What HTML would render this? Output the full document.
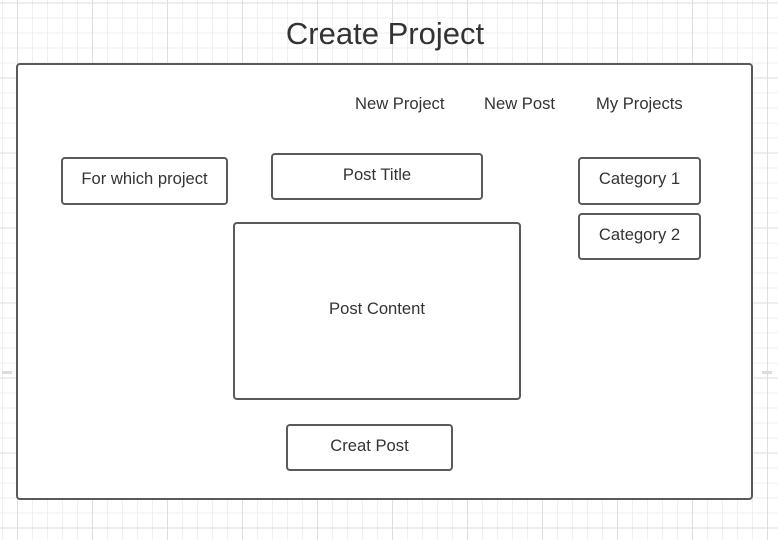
<!DOCTYPE html>
<html><head><style>
body{margin:0;width:778px;height:540px;overflow:hidden;background:#fff;font-family:"Liberation Sans",sans-serif;}
.grid{position:absolute;left:0;top:0;width:778px;height:540px;
background-image:
linear-gradient(#dedede 1px,transparent 1px),
linear-gradient(90deg,#dedede 1px,transparent 1px),
linear-gradient(#efefef 1px,transparent 1px),
linear-gradient(90deg,#efefef 1px,transparent 1px);
background-size:75px 75px,75px 75px,15px 15px,15px 15px;
background-position:0 2.5px,17px 0,0 2.5px,2px 0;}
.b{position:absolute;border:2px solid #5a5a5a;border-radius:4px;background:#fff;box-sizing:border-box;display:flex;align-items:center;justify-content:center;font-size:16.6px;color:#333;}
.t{position:absolute;font-size:16.6px;color:#333;}
</style></head><body>
<div class="grid"></div>
<div style="position:absolute;left:2px;top:371px;width:10px;height:3px;background:#ddd"></div>
<div style="position:absolute;left:762px;top:371px;width:10px;height:3px;background:#ddd"></div>
<div class="t" style="left:0;width:770px;text-align:center;top:16px;font-size:31px;">Create Project</div>
<div class="b" style="left:16px;top:63px;width:737px;height:437px;"></div>
<div class="t" style="left:355px;top:94px;">New Project</div>
<div class="t" style="left:484px;top:94px;">New Post</div>
<div class="t" style="left:596px;top:94px;">My Projects</div>
<div class="b" style="left:61px;top:157px;width:167px;height:48px;padding-bottom:4px;">For which project</div>
<div class="b" style="left:271px;top:153px;width:212px;height:47px;padding-bottom:4px;">Post Title</div>
<div class="b" style="left:578px;top:157px;width:123px;height:48px;padding-bottom:4px;">Category 1</div>
<div class="b" style="left:578px;top:213px;width:123px;height:47px;padding-bottom:4px;">Category 2</div>
<div class="b" style="left:233px;top:222px;width:288px;height:178px;padding-bottom:4px;">Post Content</div>
<div class="b" style="left:286px;top:424px;width:167px;height:47px;padding-bottom:4px;">Creat Post</div>
</body></html>
